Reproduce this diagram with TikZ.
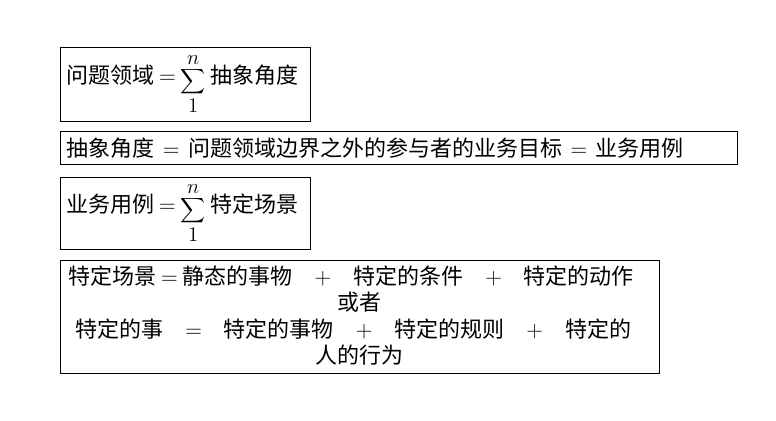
\documentclass[tikz,border=0pt]{standalone}
\usepackage{fontspec}
\usepackage{graphicx}
\setmainfont{Noto Sans CJK SC}
\begin{document}
\begin{tikzpicture}[x=0.75pt,y=-0.75pt,
  box/.style={draw,line width=1pt,inner sep=0pt,anchor=north west},
  txt/.style={inner sep=0pt,font=\fontsize{16.5pt}{19pt}\selectfont}]
\useasboundingbox (0,0) rectangle (776,421);
\node[box,minimum width=250*0.75pt,minimum height=74*0.75pt] (b1) at (60,47) {};
\node[box,minimum width=677*0.75pt,minimum height=33*0.75pt] (b2) at (60,131) {};
\node[box,minimum width=250*0.75pt,minimum height=72*0.75pt] (b3) at (60,177) {};
\node[box,minimum width=599*0.75pt,minimum height=113*0.75pt] (b4) at (60,260) {};
\node[txt,anchor=west] (t1) at (66,84) {问题领域 $=$ \raisebox{-0.5ex}{\scalebox{1.3}{$\displaystyle\sum_{1}^{n}$}} 抽象角度};
\node[txt,anchor=west] (t2) at (66,148) {抽象角度 \,$=$\, 问题领域边界之外的参与者的业务目标 \,$=$\, 业务用例};
\node[txt,anchor=west] (t3) at (66,213) {业务用例 $=$ \raisebox{-0.5ex}{\scalebox{1.3}{$\displaystyle\sum_{1}^{n}$}} 特定场景};
\node[txt,anchor=west] (t4) at (68,276) {特定场景 $=$ 静态的事物\quad$+$\quad 特定的条件\quad$+$\quad 特定的动作};
\node[txt] (t5) at (359,302) {或者};
\node[txt,anchor=west] (t6) at (75,329) {特定的事\quad$=$\quad 特定的事物\quad$+$\quad 特定的规则\quad$+$\quad 特定的};
\node[txt] (t7) at (359,355) {人的行为};
\end{tikzpicture}
\end{document}
